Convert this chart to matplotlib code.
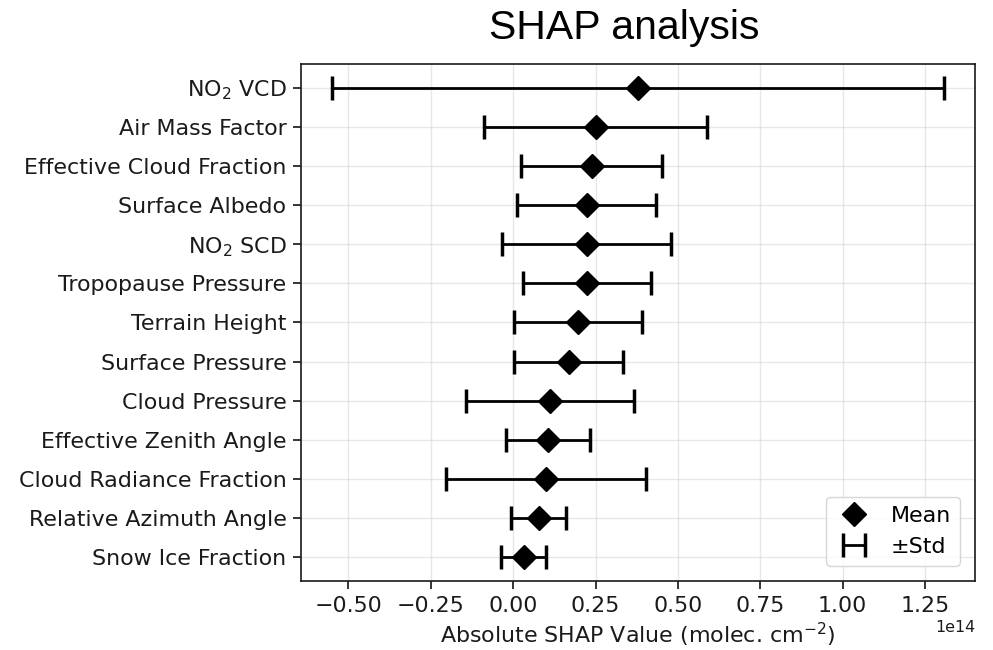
import matplotlib
matplotlib.use("Agg")
import matplotlib.pyplot as plt
import numpy as np

# features, top to bottom
features = [
    "NO$_2$ VCD",
    "Air Mass Factor",
    "Effective Cloud Fraction",
    "Surface Albedo",
    "NO$_2$ SCD",
    "Tropopause Pressure",
    "Terrain Height",
    "Surface Pressure",
    "Cloud Pressure",
    "Effective Zenith Angle",
    "Cloud Radiance Fraction",
    "Relative Azimuth Angle",
    "Snow Ice Fraction",
]
# mean |SHAP| and std, units of 1e14 molec. cm^-2
mean_shap = [0.379, 0.250, 0.238, 0.223, 0.223, 0.223, 0.196,
             0.169, 0.111, 0.105, 0.099, 0.078, 0.032]
std_shap = [0.930, 0.338, 0.214, 0.211, 0.256, 0.194, 0.194,
            0.165, 0.255, 0.128, 0.303, 0.083, 0.069]

mean = np.array(mean_shap) * 1e14
std = np.array(std_shap) * 1e14
y = np.arange(len(features))[::-1]

FS = 15.9
plt.rcParams["font.family"] = "DejaVu Sans"

fig = plt.figure(figsize=(9.93, 6.5), dpi=100)
ax = fig.add_axes([0.3031, 0.1062, 0.6788, 0.7953])

ax.plot(mean, y, linestyle="none", marker="D", markersize=12.5,
        color="black", label="Mean", zorder=3)
ax.errorbar(mean, y, xerr=std, fmt="none", ecolor="black", elinewidth=2,
            capsize=8.5, capthick=2.5, label="\u00b1Std", zorder=2)

ax.set_yticks(y)
ax.set_yticklabels(features)
ax.tick_params(axis="both", labelsize=FS, length=5.5, width=1.1, pad=5,
               labelcolor="#1a1a1a")
ax.xaxis.get_offset_text().set_fontsize(11.4)
ax.grid(True, color="#d0d0d0", alpha=0.5, linewidth=1)
ax.set_axisbelow(True)
for sp in ax.spines.values():
    sp.set_linewidth(1.2)
    sp.set_color("#1a1a1a")

ax.set_xlabel("Absolute SHAP Value (molec. cm$^{-2}$)", fontsize=FS,
              color="#1a1a1a", labelpad=3.5)
ax.legend(loc="lower right", fontsize=FS, borderaxespad=0.7,
          handlelength=1.7)

fig.text(0.629, 0.94, "SHAP analysis", fontsize=29.5,
         family="Liberation Sans", ha="center", va="baseline")

fig.savefig("out.png", dpi=100)
